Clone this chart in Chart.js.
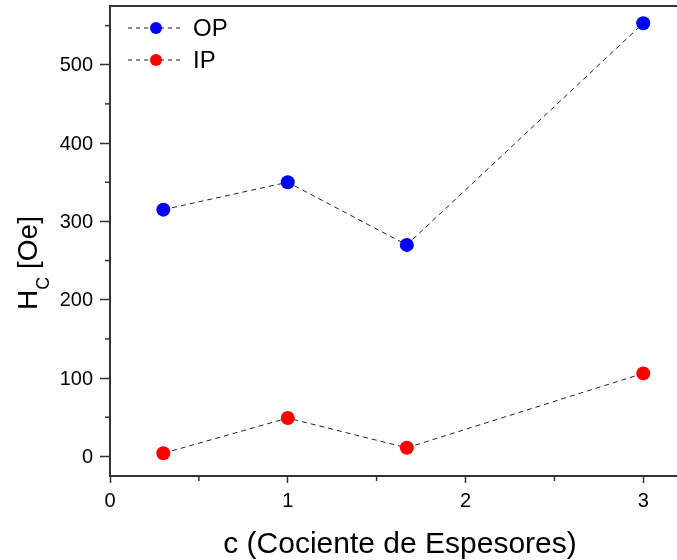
<!DOCTYPE html>
<html>
<head>
<meta charset="utf-8">
<script src="https://cdn.jsdelivr.net/npm/chart.js@4"></script>
<style>
  html, body { margin: 0; padding: 0; background: #fff; overflow: hidden; }
  #wrap { width: 677px; height: 560px; }
</style>
</head>
<body>
<div id="wrap"><canvas id="hcChart"></canvas></div>
<script>
// c (thickness ratio) and coercive field values
const cValues = [0.3, 1, 1.67, 3];
const opValues = [315, 350, 270, 553];
const ipValues = [4, 49, 11, 106];
const seriesNames = ["OP", "IP"];
const xTicks = [0, 1, 2, 3];
const xMinorTicks = [0.5, 1.5, 2.5];
const yTicks = [0, 100, 200, 300, 400, 500];
const yMinorTicks = [50, 150, 250, 350, 450, 550];

const FONT = "'Liberation Sans', Arial, sans-serif";
const AXIS = "#333";

function toPoints(ys) {
  return cValues.map((c, i) => ({ x: c, y: ys[i] }));
}

// draw text at an effective size by scaling a 24px font
function scaledText(ctx, text, x, y, size) {
  ctx.save();
  ctx.translate(x, y);
  ctx.scale(size / 24, size / 24);
  ctx.font = "24px " + FONT;
  ctx.fillText(text, 0, 0);
  ctx.restore();
}

// frame top line, minor ticks, legend, tick labels and axis titles
const extras = {
  id: "extras",
  afterDraw(chart) {
    const ctx = chart.ctx;
    const area = chart.chartArea;
    const xs = chart.scales.x;
    const ys = chart.scales.y;
    ctx.save();

    // top frame line
    ctx.strokeStyle = AXIS;
    ctx.lineWidth = 2;
    ctx.beginPath();
    ctx.moveTo(area.left, area.top);
    ctx.lineTo(area.right, area.top);
    ctx.stroke();

    // minor ticks
    ctx.lineWidth = 1.5;
    xMinorTicks.forEach(v => {
      const px = xs.getPixelForValue(v);
      ctx.beginPath();
      ctx.moveTo(px, area.bottom);
      ctx.lineTo(px, area.bottom + 5);
      ctx.stroke();
    });
    yMinorTicks.forEach(v => {
      const py = ys.getPixelForValue(v);
      ctx.beginPath();
      ctx.moveTo(area.left, py);
      ctx.lineTo(area.left - 5, py);
      ctx.stroke();
    });

    // legend
    chart.data.datasets.forEach((ds, i) => {
      const y = 28 + i * 32;
      ctx.strokeStyle = "#222";
      ctx.lineWidth = 1;
      ctx.setLineDash([4, 4]);
      ctx.beginPath();
      ctx.moveTo(128, y);
      ctx.lineTo(183, y);
      ctx.stroke();
      ctx.setLineDash([]);
      ctx.fillStyle = ds.pointBackgroundColor;
      ctx.beginPath();
      ctx.arc(156, y, 6, 0, Math.PI * 2);
      ctx.fill();
      ctx.fillStyle = "#000";
      ctx.font = "24px " + FONT;
      ctx.textAlign = "left";
      ctx.textBaseline = "middle";
      ctx.fillText(ds.label, 193, y + 1);
    });

    // tick labels
    ctx.fillStyle = "#000";
    ctx.textBaseline = "middle";
    ctx.textAlign = "center";
    xTicks.forEach(v => {
      scaledText(ctx, String(v), xs.getPixelForValue(v), area.bottom + 25, 20);
    });
    ctx.textAlign = "right";
    yTicks.forEach(v => {
      scaledText(ctx, String(v), area.left - 17, ys.getPixelForValue(v) + 1, 20);
    });

    // x title
    ctx.fillStyle = "#000";
    ctx.font = "30px " + FONT;
    ctx.textAlign = "center";
    ctx.textBaseline = "alphabetic";
    ctx.fillText("c (Cociente de Espesores)", 400, 553);

    // y title with subscript
    ctx.translate(37, 310);
    ctx.rotate(-Math.PI / 2);
    ctx.textAlign = "left";
    ctx.font = "28px " + FONT;
    ctx.fillText("H", 0, 0);
    let w = ctx.measureText("H").width;
    ctx.font = "18px " + FONT;
    ctx.fillText("C", w, 12);
    w += ctx.measureText("C").width;
    ctx.font = "28px " + FONT;
    ctx.fillText(" [Oe]", w, 0);

    ctx.restore();
  }
};

new Chart(document.getElementById("hcChart"), {
  type: "scatter",
  data: {
    datasets: [
      {
        label: seriesNames[0],
        data: toPoints(opValues),
        showLine: true,
        borderColor: "#222",
        borderWidth: 1,
        borderDash: [5, 4],
        pointRadius: 7,
        pointBorderWidth: 0,
        pointBackgroundColor: "#0000ff",
      },
      {
        label: seriesNames[1],
        data: toPoints(ipValues),
        showLine: true,
        borderColor: "#222",
        borderWidth: 1,
        borderDash: [5, 4],
        pointRadius: 7,
        pointBorderWidth: 0,
        pointBackgroundColor: "#ff0000",
      },
    ],
  },
  options: {
    responsive: true,
    maintainAspectRatio: false,
    animation: false,
    layout: { autoPadding: false, padding: { top: 6, right: 0, left: 0, bottom: 0 } },
    plugins: { legend: { display: false }, tooltip: { enabled: false } },
    scales: {
      x: {
        type: "linear",
        min: 0,
        max: 3.19,
        afterBuildTicks: s => { s.ticks = xTicks.map(v => ({ value: v })); },
        afterFit: s => { s.height = 84; s.paddingLeft = 0; s.paddingRight = 0; },
        border: { color: AXIS, width: 2 },
        grid: { drawOnChartArea: false, tickLength: 7, tickWidth: 1.5, tickColor: AXIS },
        ticks: { display: false },
      },
      y: {
        min: -25,
        max: 575,
        afterBuildTicks: s => { s.ticks = yTicks.map(v => ({ value: v })); },
        afterFit: s => { s.width = 110; s.paddingTop = 0; s.paddingBottom = 0; },
        border: { color: AXIS, width: 2 },
        grid: { drawOnChartArea: false, tickLength: 10, tickWidth: 1.5, tickColor: AXIS },
        ticks: { display: false },
      },
    },
  },
  plugins: [extras],
});
</script>
</body>
</html>
